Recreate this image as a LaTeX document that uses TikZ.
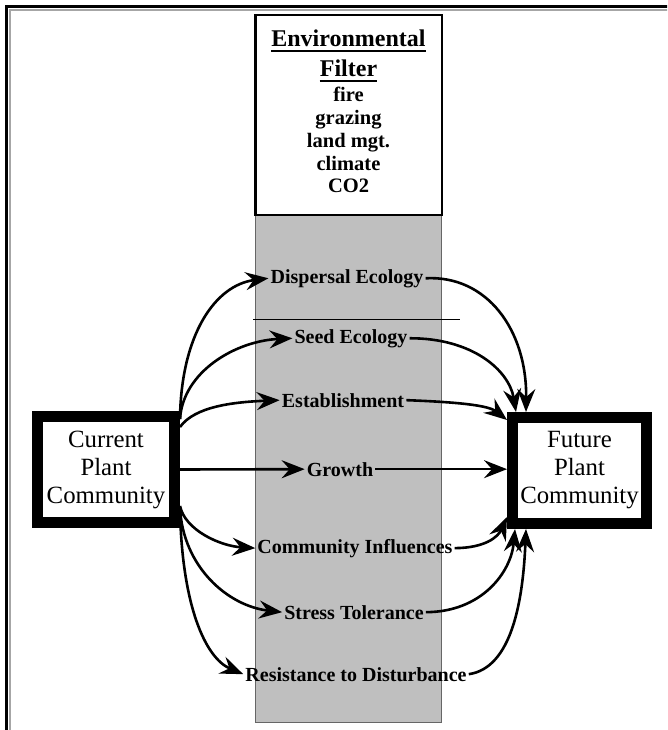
\documentclass[tikz,border=0pt]{standalone}
\usepackage{fontspec}
\setmainfont{Liberation Serif}
\usetikzlibrary{arrows.meta}
\begin{document}
\begin{tikzpicture}[x=1pt,y=-1pt,
  bigbox/.style={draw, line width=11pt, fill=white, minimum width=137pt, minimum height=106pt, inner sep=0pt, align=center, font=\fontsize{24.8}{28}\selectfont},
  lbl/.style={font=\bfseries\fontsize{20}{24}\selectfont, inner sep=2pt, anchor=base},
  envtitle/.style={font=\bfseries\fontsize{24}{28}\selectfont, inner sep=0pt, anchor=base},
  envitem/.style={font=\bfseries\fontsize{20.5}{24}\selectfont, inner sep=0pt, anchor=base},
  flow/.style={line width=2.6pt, -{Stealth[length=23pt,width=18pt,inset=8pt]}}]
\useasboundingbox (0,0) rectangle (667,730);
\clip (0,0) rectangle (667,730);
\fill[white] (0,0) rectangle (667,730);
% outer frame
\draw[line width=3pt] (6.5,6.5) rectangle (700,760);
\draw[black!35, line width=2pt] (10,10) rectangle (700,760);
% shaded column
\draw[fill=black!25, draw=black!60, line width=0.6pt] (255,215) rectangle (441,722);
\draw[line width=0.8pt] (253,319) -- (460,319);
% environmental filter box
\node[draw, line width=2.5pt, fill=white, minimum width=186.5pt, minimum height=199.5pt, inner sep=0pt] (env) at (348.5,115) {};
\node[envtitle] (t1) at (348.5,47) {Environmental};
\draw[line width=1.6pt] ([yshift=-4pt]t1.base west) -- ([yshift=-4pt]t1.base east);
\node[envtitle] (t2) at (348.5,77) {Filter};
\draw[line width=1.6pt] ([yshift=-4pt]t2.base west) -- ([yshift=-4pt]t2.base east);
\node[envitem] (i1) at (348.5,102) {fire};
\node[envitem] (i2) at (348.5,125) {grazing};
\node[envitem] (i3) at (348.5,148) {land mgt.};
\node[envitem] (i4) at (348.5,170.5) {climate};
\node[envitem] (i5) at (348.5,193) {CO2};
% labels
\node[lbl] (disp) at (347,283) {Dispersal Ecology};
\node[lbl] (seed) at (351,343) {Seed Ecology};
\node[lbl] (est) at (343,407) {Establishment};
\node[lbl] (grow) at (340,476) {Growth};
\node[lbl] (comm) at (355,553) {Community Influences};
\node[lbl] (stress) at (354,619) {Stress Tolerance};
\node[lbl] (resist) at (356,681) {Resistance to Disturbance};
% plant community boxes
\node[bigbox] (cur) at (106,469.5) {Current\\Plant\\Community};
\node[bigbox, minimum width=134pt] (fut) at (579.5,470.5) {Future\\Plant\\Community};
% arrows from current community
\draw[flow] ([yshift=-8pt]cur.north east) .. controls (181,335) and (215,285) .. (disp.west);
\draw[flow] ([yshift=-8pt]cur.north east) .. controls (183,372) and (235,341) .. (seed.west);
\draw[flow] ([yshift=-16pt]cur.north east) .. controls (195,406) and (235,402) .. (est.west);
\draw[flow] (cur.east) -- (grow.west);
\draw[flow] ([yshift=22pt]cur.south east) .. controls (185,530) and (220,546) .. (comm.west);
\draw[flow] ([yshift=20pt]cur.south east) .. controls (183,567) and (228,606) .. (stress.west);
\draw[flow] ([yshift=18pt]cur.south east) .. controls (182,605) and (205,658) .. (resist.west);
% arrows to future community
\draw[flow] (disp.east) .. controls (487,275) and (527,330) .. ([xshift=19pt]fut.north west);
\draw[flow] (seed.east) .. controls (472,338) and (509,370) .. ([xshift=9pt]fut.north west);
\draw[flow] (est.east) .. controls (455,402) and (488,405) .. ([yshift=-8pt]fut.north west);
\draw[flow] (grow.east) -- (grow.east -| fut.west);
\draw[flow] (comm.east) .. controls (485,548) and (498,537) .. ([yshift=12pt]fut.south west);
\draw[flow] (stress.east) .. controls (482,612) and (511,572) .. ([xshift=8pt]fut.south west);
\draw[flow] (resist.east) .. controls (512,668) and (523,600) .. ([xshift=19pt]fut.south west);
\end{tikzpicture}
\end{document}
